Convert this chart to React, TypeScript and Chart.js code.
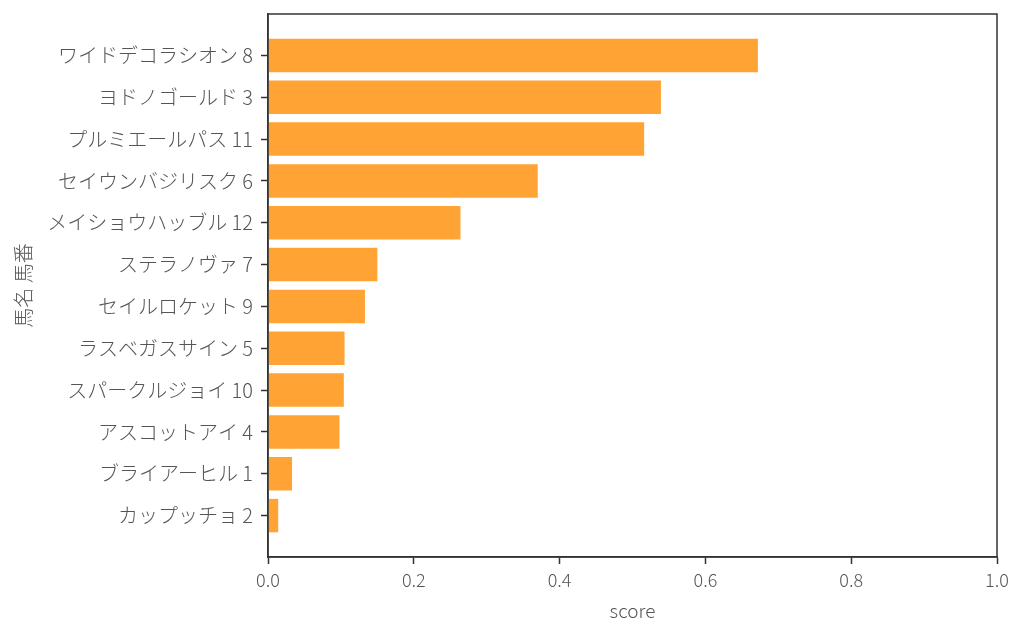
import React, { useEffect, useRef } from "react";
import { Chart, registerables } from "chart.js";

Chart.register(...registerables);

const horseNames: string[] = [
  "ワイドデコラシオン 8",
  "ヨドノゴールド 3",
  "プルミエールパス 11",
  "セイウンバジリスク 6",
  "メイショウハッブル 12",
  "ステラノヴァ 7",
  "セイルロケット 9",
  "ラスベガスサイン 5",
  "スパークルジョイ 10",
  "アスコットアイ 4",
  "ブライアーヒル 1",
  "カップッチョ 2",
];

const scores: number[] = [0.672, 0.539, 0.516, 0.370, 0.264, 0.150, 0.133, 0.105, 0.104, 0.098, 0.033, 0.014];

const xTicks: number[] = [0, 0.2, 0.4, 0.6, 0.8, 1.0];

const FONT = "'Noto Sans CJK JP', 'Noto Sans', sans-serif";
const TEXT = "#555555";
const AXIS = "#333333";

const frame = {
  id: "frame",
  afterDraw(chart: any) {
    const { ctx, chartArea } = chart;
    ctx.save();
    ctx.strokeStyle = AXIS;
    ctx.lineWidth = 1.5;
    ctx.strokeRect(chartArea.left, chartArea.top, chartArea.right - chartArea.left, chartArea.bottom - chartArea.top);
    ctx.restore();
  },
};

export default function App() {
  const ref = useRef<HTMLCanvasElement | null>(null);
  useEffect(() => {
    document.body.style.margin = "0";
    const chart = new Chart(ref.current as HTMLCanvasElement, {
      type: "bar",
      data: {
        datasets: [
          {
            data: scores.map((v, i) => ({ x: v, y: i })),
            backgroundColor: "#ffa334",
            borderWidth: 0,
            barPercentage: 0.8,
            categoryPercentage: 1.0,
          },
        ],
      },
      options: {
        indexAxis: "y",
        animation: false,
        responsive: false,
        maintainAspectRatio: false,
        layout: { padding: { left: 0, top: 14, right: 27, bottom: 0 } },
        plugins: { legend: { display: false }, tooltip: { enabled: false } },
        scales: {
          x: {
            type: "linear",
            min: 0,
            max: 1,
            afterBuildTicks: (s: any) => {
              s.ticks = xTicks.map((v) => ({ value: v }));
            },
            afterFit: (s: any) => {
              s.height = 81;
              s.paddingLeft = 0;
              s.paddingRight = 0;
            },
            border: { display: true, color: AXIS, width: 1.5 },
            grid: { drawOnChartArea: false, drawTicks: true, tickLength: 7, color: AXIS, tickWidth: 1.5 },
            ticks: {
              color: TEXT,
              padding: 5,
              font: { family: FONT, size: 18, weight: "300" as any },
              callback: (v: any) => Number(v).toFixed(1),
            },
            title: {
              display: true,
              text: "score",
              color: TEXT,
              padding: { top: 0, bottom: 16 },
              font: { family: FONT, size: 19, weight: "300" as any },
            },
          },
          y: {
            type: "linear",
            reverse: true,
            offset: false,
            min: -0.99,
            max: 11.99,
            afterBuildTicks: (s: any) => {
              s.ticks = horseNames.map((_, i) => ({ value: i }));
            },
            afterFit: (s: any) => {
              s.width = 268;
              s.paddingTop = 0;
              s.paddingBottom = 0;
            },
            border: { display: true, color: AXIS, width: 1.5 },
            grid: { offset: false, drawOnChartArea: false, drawTicks: true, tickLength: 7, color: AXIS, tickWidth: 1.5 },
            ticks: {
              color: TEXT,
              padding: 8,
              autoSkip: false,
              font: { family: FONT, size: 20, weight: "300" as any },
              callback: (v: any) => horseNames[Math.round(Number(v))] ?? "",
            },
            title: {
              display: true,
              text: "馬名 馬番",
              color: TEXT,
              padding: { top: 11, bottom: 0 },
              font: { family: FONT, size: 20, weight: "300" as any },
            },
          },
        },
      },
      plugins: [frame],
    } as any);
    return () => chart.destroy();
  }, []);
  return (
    <div style={{ width: 1024, height: 638, background: "#fff" }}>
      <canvas ref={ref} width={1024} height={638} style={{ width: 1024, height: 638 }} />
    </div>
  );
}
